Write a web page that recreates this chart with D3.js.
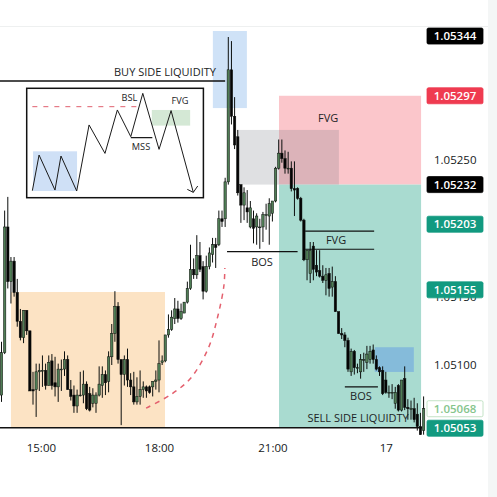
<!DOCTYPE html>
<html><head><meta charset="utf-8">
<script src="https://cdnjs.cloudflare.com/ajax/libs/d3/7.8.5/d3.min.js"></script>
<style>html,body{margin:0;padding:0;background:#fff}svg{display:block}text{font-family:"Open Sans",sans-serif}</style>
</head><body><svg id="c" width="497" height="497"></svg>
<script>
// Prices are in points above 1.05000 (1 point = 0.00001)
const opens=[78,109,201,161,176,153,132,120,140,125,82,82,95,96,96,85,103,87,84,97,97,104,82,78,70,78,78,86,79,72,72,78,85,93,88,106,123,143,104,93,104,89,84,73,77,82,84,84,84,88,89,102,103,122,126,134,141,134,138,146,156,170,166,180,172,154,172,181,188,188,207,207,234,316,282,267,232,217,215,201,207,201,201,201,210,209,211,220,244,255,251,244,244,229,229,222,206,177,167,187,173,169,165,162,167,157,161,139,123,122,118,95,110,98,95,104,102,104,111,104,98,96,89,80,80,72,85,67,90,69,68,68,64,55,52];
const highs=[117,213,223,179,179,163,141,140,140,125,95,101,101,107,101,107,108,106,101,104,110,107,89,85,82,95,96,88,84,83,80,99,99,96,110,130,154,146,104,107,112,94,95,91,96,88,85,85,88,96,118,107,122,137,140,149,147,145,146,161,188,178,195,190,176,180,186,193,193,213,213,237,340,337,296,272,232,230,228,220,213,211,207,212,218,222,220,245,265,265,257,256,249,249,230,223,207,184,190,190,184,184,173,171,171,172,165,139,127,124,120,112,111,101,108,109,114,114,115,107,99,99,95,85,86,84,86,89,99,75,74,76,72,65,77];
const lows=[73,108,156,145,150,128,118,116,122,81,71,62,81,84,82,85,82,77,73,81,92,82,74,65,65,77,72,67,66,69,65,77,76,78,80,100,117,101,56,85,84,78,71,71,71,76,76,79,77,82,80,100,102,120,125,130,131,133,138,145,155,163,163,168,148,153,170,175,171,187,201,201,232,276,258,224,204,206,204,200,189,188,185,190,199,188,205,219,243,248,240,240,227,209,221,205,176,162,160,162,165,164,160,151,150,150,139,123,119,113,95,92,93,94,90,95,97,101,101,96,92,78,79,76,75,68,66,66,67,60,60,58,52,49,49];
const closes=[109,201,161,176,153,132,120,140,125,81,81,95,96,96,85,102,85,84,97,97,104,82,77,70,78,78,86,68,67,78,78,86,93,87,106,123,143,104,93,104,89,84,73,77,82,84,81,80,88,89,101,103,122,126,135,141,134,139,146,156,170,166,180,170,154,172,182,188,186,207,205,234,316,282,261,226,217,226,212,215,200,209,201,210,210,218,220,244,255,251,244,244,229,228,222,206,177,184,184,170,168,165,162,166,156,161,139,123,122,118,97,110,98,98,104,104,108,110,104,97,95,79,80,80,80,80,67,89,69,68,68,60,55,49,68];

const priceLabels=[344,297,232,203,155,68,53];
const priceTicks=[100,150,250,300];
const timeTicks=[12.5,50,86,122];
const timeLabels=["15:00","18:00","21:00","17"];
const dashCurveT=[45.9,53.5,59.9,65.6,68.7,70.6,70.9];
const dashCurveP=[68.5,78,90,112,136,158,171];
const insetPathX=[3.2,7,16,19.4,28.3,35.3,44.3,51.3,58.9,65.7,74.9,81.7,94.3];
const insetPathY=[6.4,39,7,38.1,6.1,66.5,40.5,80.2,55.8,95.4,44.2,79.6,4.9];

const svg=d3.select("#c");
const x=d3.scaleLinear().domain([0,134]).range([1.5,423.6]);
const y=d3.scaleLinear().domain([100,250]).range([365,160]);
const zone=(t0,t1,p0,p1,fill)=>svg.append("rect").attr("x",x(t0)).attr("width",x(t1)-x(t0)).attr("y",y(p1)).attr("height",y(p0)-y(p1)).attr("fill",fill);
const hline=(t0,t1,p,w)=>svg.append("line").attr("x1",x(t0)).attr("x2",x(t1)).attr("y1",y(p)).attr("y2",y(p)).attr("stroke","#111").attr("stroke-width",w);
const label=(t,p,s,size,anchor)=>svg.append("text").attr("x",x(t)).attr("y",y(p)).attr("text-anchor",anchor||"middle").attr("font-size",size||10.5).attr("fill","#1c2426").text(s);

// page frame
svg.append("rect").attr("x",488).attr("y",0).attr("width",9).attr("height",497).attr("fill","#f4f6f6");
svg.append("rect").attr("x",0).attr("y",26).attr("width",488).attr("height",1).attr("fill","#eef0f0");

// zones
zone(3,51.9,54,153.4,"#fce3c4");
zone(67.1,77.9,288,344.4,"#cfe2f7");
zone(88.1,133.2,232,297,"#fbc6cb");
zone(88.1,133.2,54,232,"#a9dbd0");
zone(75.1,107.1,232,272,"rgba(110,115,125,0.22)");
zone(118.5,130.9,94.9,113,"rgba(110,165,225,0.6)");

// dashed curve
const curve=d3.line().x(d=>x(d[0])).y(d=>y(d[1])).curve(d3.curveCatmullRom);
svg.append("path").attr("d",curve(d3.zip(dashCurveT,dashCurveP))).attr("fill","none").attr("stroke","#e4606e").attr("stroke-width",1.5).attr("stroke-dasharray","5,5");

// level lines
hline(-0.5,71,307.8,1.3);
hline(-0.5,133.5,54,1.5);
hline(71.6,94,183,1.3);
hline(96.4,118.3,198,1.2);
hline(96.4,118.3,184.7,1.2);
hline(109,119.5,84,1.2);

// candles
const g=svg.append("g");
opens.forEach((o,i)=>{
  const c=closes[i],up=c>=o,px=x(i);
  g.append("line").attr("x1",px).attr("x2",px).attr("y1",y(highs[i])).attr("y2",y(lows[i])).attr("stroke","#0c0f0d").attr("stroke-width",1);
  const top=y(Math.max(o,c)),h=Math.max(0.8,Math.abs(y(o)-y(c)));
  g.append("rect").attr("x",px-1.2).attr("width",2.4).attr("y",top).attr("height",h).attr("fill",up?"#4f7d55":"#050505").attr("stroke","#0c0f0d").attr("stroke-width",0.5);
});

// annotations
label(51.9,311.5,"BUY SIDE LIQUIDITY",11);
label(103.7,278,"FVG",11);
label(82.7,172.4,"BOS",11);
label(106.2,188.5,"FVG",11);
label(114.1,74.4,"BOS",11);
label(113.2,58.3,"SELL SIDE LIQUIDTY",11);

// inset
const ix=d3.scaleLinear().domain([0,100]).range([26.7,203.4]);
const iy=d3.scaleLinear().domain([0,100]).range([197.7,88.3]);
const inset=svg.append("g");
inset.append("rect").attr("x",ix(0)).attr("y",iy(100)).attr("width",ix(100)-ix(0)).attr("height",iy(0)-iy(100)).attr("fill","#fff").attr("stroke","#111").attr("stroke-width",1.5);
inset.append("rect").attr("x",ix(3.6)).attr("y",iy(42.4)).attr("width",ix(28.5)-ix(3.6)).attr("height",iy(6.1)-iy(42.4)).attr("fill","#cfe0f6");
inset.append("rect").attr("x",ix(70.8)).attr("y",iy(80.2)).attr("width",ix(92.5)-ix(70.8)).attr("height",iy(65.9)-iy(80.2)).attr("fill","#d4e8d5");
inset.append("line").attr("x1",ix(3.2)).attr("x2",ix(62.3)).attr("y1",iy(83.2)).attr("y2",iy(83.2)).attr("stroke","#e0606e").attr("stroke-width",1).attr("stroke-dasharray","5,6");
const iline=d3.line().x(d=>ix(d[0])).y(d=>iy(d[1]));
inset.append("path").attr("d",iline(d3.zip(insetPathX,insetPathY))).attr("fill","none").attr("stroke","#1a1a1a").attr("stroke-width",1);
inset.append("path").attr("d",iline([[90.9,7.6],[94.3,4.9],[96.8,10.7]])).attr("fill","none").attr("stroke","#1a1a1a").attr("stroke-width",1);
inset.append("line").attr("x1",ix(58.9)).attr("x2",ix(71.1)).attr("y1",iy(54.9)).attr("y2",iy(54.9)).attr("stroke","#111").attr("stroke-width",1.2);
[[64.7,44,"MSS"],[58.1,88.5,"BSL"],[86.8,86,"FVG"]].forEach(d=>inset.append("text").attr("x",ix(d[0])).attr("y",iy(d[1])).attr("text-anchor","middle").attr("font-size",9.2).attr("fill","#1c2426").text(d[2]));

// price axis
const yAxis=d3.axisRight(y).tickValues(priceTicks).tickSize(0).tickPadding(0).tickFormat(v=>(1.05+v/1e5).toFixed(5));
const ya=svg.append("g").attr("transform","translate(434,0)").call(yAxis);
ya.select(".domain").remove();
ya.selectAll("text").attr("font-size",11.5).attr("fill","#15191a").style("font-family","'Open Sans',sans-serif");

// price labels
const labelStyle=[["#000","#fff","#000"],["#ef3b50","#fff","#ef3b50"],["#000","#fff","#000"],["#129a80","#fff","#129a80"],["#129a80","#fff","#129a80"],["#fff","#86c58c","#b5dcb9"],["#129a80","#fff","#129a80"]];
const labelNudge=[4.5,0,0,0,0,0,-1];
priceLabels.forEach((v,i)=>{
  const cy=y(v)+labelNudge[i],st=labelStyle[i];
  svg.append("rect").attr("x",427).attr("y",cy-8).attr("width",56).attr("height",16).attr("rx",1.5).attr("fill",st[0]).attr("stroke",st[2]).attr("stroke-width",0.8);
  svg.append("text").attr("x",455).attr("y",cy+4).attr("text-anchor","middle").attr("font-size",11.5).attr("font-weight",600).attr("fill",st[1]).text((1.05+v/1e5).toFixed(5));
});

// time axis
const xAxis=d3.axisBottom(x).tickValues(timeTicks).tickSize(0).tickPadding(0).tickFormat((d,i)=>timeLabels[i]);
const xa=svg.append("g").attr("transform","translate(0,444)").call(xAxis);
xa.select(".domain").remove();
xa.selectAll("text").attr("font-size",11.5).attr("fill","#15191a").style("font-family","'Open Sans',sans-serif");
</script></body></html>
